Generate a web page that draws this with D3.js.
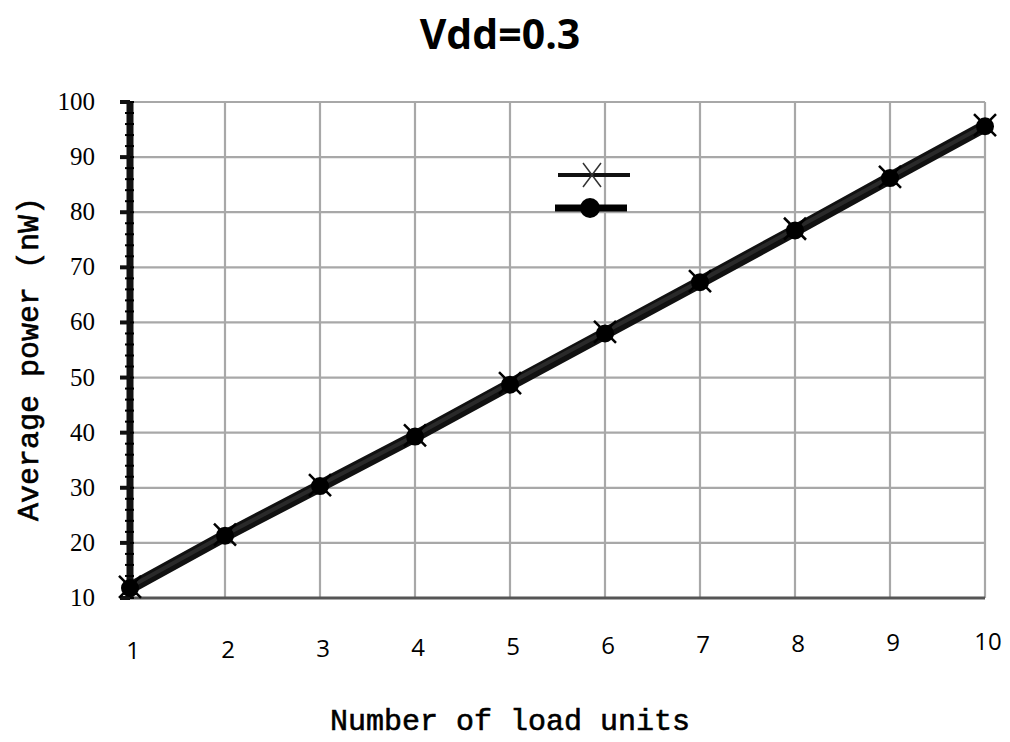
<!DOCTYPE html>
<html>
<head>
<meta charset="utf-8">
<script src="https://cdn.jsdelivr.net/npm/d3@7"></script>
<style>
  body { margin: 0; background: #fff; }
  .ytick { font-family: "Liberation Serif", "Times New Roman", serif; font-size: 25px; }
  .xtick { font-family: "Open Sans", "Noto Sans", sans-serif; font-size: 24px; }
  .title { font-family: "Open Sans", "Noto Sans", sans-serif; font-weight: bold; font-size: 41px; }
  .axtitle { font-family: "Liberation Mono", "Courier New", monospace; font-size: 30px; stroke: #000; stroke-width: 0.6px; }
</style>
</head>
<body>
<div id="chart"></div>
<script>
const loadUnits = [1, 2, 3, 4, 5, 6, 7, 8, 9, 10]
const powerCross = [12, 21.5, 30.5, 39.5, 49, 58.3, 67.5, 77, 86.4, 95.8]
const powerCircle = [11.8, 21.3, 30.3, 39.3, 48.7, 58, 67.3, 76.7, 86.2, 95.6]
const yTicks = [10, 20, 30, 40, 50, 60, 70, 80, 90, 100]

const width = 1010, height = 742

const svg = d3.select("#chart").append("svg")
    .attr("width", width)
    .attr("height", height)

var x = d3.scaleLinear().domain([1, 10]).range([130, 985])
var y = d3.scaleLinear().domain([10, 100]).range([598, 102])

// grid
svg.append("g").selectAll("line")
    .data(yTicks)
    .enter().append("line")
    .attr("x1", x(1)).attr("x2", x(10))
    .attr("y1", d => y(d)).attr("y2", d => y(d))
    .attr("stroke", "#a8a8a8").attr("stroke-width", 2.2)

svg.append("g").selectAll("line")
    .data(loadUnits.slice(1))
    .enter().append("line")
    .attr("x1", d => x(d)).attr("x2", d => x(d))
    .attr("y1", y(100)).attr("y2", y(10))
    .attr("stroke", "#a8a8a8").attr("stroke-width", 2.2)

// bottom axis line
svg.append("line")
    .attr("x1", x(1) - 4).attr("x2", x(10))
    .attr("y1", y(10)).attr("y2", y(10))
    .attr("stroke", "#555").attr("stroke-width", 3)

// left axis: thick with minor ticks
svg.append("line")
    .attr("x1", x(1)).attr("x2", x(1))
    .attr("y1", y(100)).attr("y2", y(10))
    .attr("stroke", "#111").attr("stroke-width", 7)
svg.append("g").selectAll("line")
    .data(d3.range(10, 100.01, 2))
    .enter().append("line")
    .attr("x1", x(1) - 5).attr("x2", x(1) + 4)
    .attr("y1", d => y(d)).attr("y2", d => y(d))
    .attr("stroke", "#000").attr("stroke-width", 2)
svg.append("g").selectAll("line")
    .data(yTicks)
    .enter().append("line")
    .attr("x1", x(1) - 10).attr("x2", x(1))
    .attr("y1", d => y(d)).attr("y2", d => y(d))
    .attr("stroke", "#111").attr("stroke-width", 4)

// y tick labels
svg.append("g").selectAll("text")
    .data(yTicks)
    .enter().append("text")
    .attr("class", "ytick")
    .attr("x", 95).attr("y", d => y(d) + 8)
    .attr("text-anchor", "end")
    .text(d => d)

// x tick labels (slightly slanted baseline as in the scan)
svg.append("g").selectAll("text")
    .data(loadUnits)
    .enter().append("text")
    .attr("class", "xtick")
    .attr("x", d => x(d) + 3).attr("y", d => 659 - (d - 1) * 1.0)
    .attr("text-anchor", "middle")
    .text(d => d)

// lines
var line = d3.line().x((d, i) => x(loadUnits[i])).y(d => y(d))
svg.append("path").datum(powerCircle)
    .attr("d", line).attr("fill", "none")
    .attr("stroke", "#111").attr("stroke-width", 12)
svg.append("path").datum(powerCross)
    .attr("d", line).attr("fill", "none")
    .attr("stroke", "#2a2a2a").attr("stroke-width", 4)

// circle markers
svg.append("g").selectAll("circle")
    .data(powerCircle)
    .enter().append("circle")
    .attr("cx", (d, i) => x(loadUnits[i])).attr("cy", d => y(d))
    .attr("r", 9).attr("fill", "#000")

// cross markers
var cross = svg.append("g")
powerCross.forEach((v, i) => {
    var cx = x(loadUnits[i]), cy = y(v)
    cross.append("path")
        .attr("d", `M${cx - 11},${cy - 11}L${cx + 11},${cy + 11}M${cx + 11},${cy - 11}L${cx - 11},${cy + 11}`)
        .attr("stroke", "#000").attr("stroke-width", 2.5)
})

// legend
svg.append("line").attr("x1", 558).attr("x2", 630).attr("y1", 175).attr("y2", 175)
    .attr("stroke", "#111").attr("stroke-width", 4)
svg.append("path")
    .attr("d", "M583,163L601,187M601,163L583,187")
    .attr("stroke", "#333").attr("stroke-width", 1.5)
svg.append("line").attr("x1", 555).attr("x2", 627).attr("y1", 208).attr("y2", 208)
    .attr("stroke", "#000").attr("stroke-width", 7)
svg.append("circle").attr("cx", 590).attr("cy", 208).attr("r", 10).attr("fill", "#000")

// title
svg.append("text")
    .attr("class", "title")
    .attr("x", 500).attr("y", 49)
    .attr("text-anchor", "middle")
    .text("Vdd=0.3")

// axis titles
svg.append("text")
    .attr("class", "axtitle")
    .attr("x", 510).attr("y", 730)
    .attr("text-anchor", "middle")
    .text("Number of load units")

svg.append("text")
    .attr("class", "axtitle")
    .attr("transform", "translate(38,359) rotate(-90)")
    .attr("text-anchor", "middle")
    .text("Average power  (nW)")
</script>
</body>
</html>
